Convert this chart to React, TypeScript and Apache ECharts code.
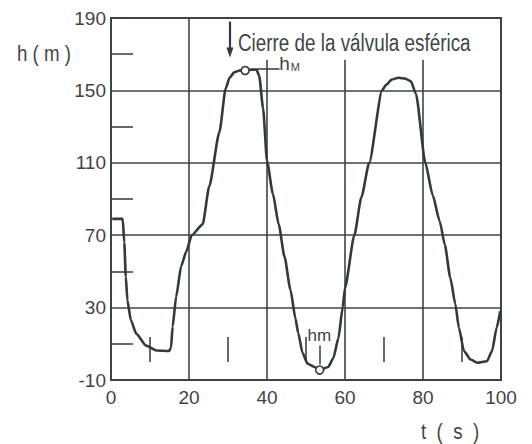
import React, { useEffect, useRef } from "react";
import * as echarts from "echarts";

// Curve: time t (s) and head h (m)
const tSeconds = [
  0.3, 3.0, 3.4, 3.8, 4.2, 5.1, 6.5, 9.0, 11.8, 14.9, 15.4, 15.8, 16.7, 18.0,
  19.3, 20.7, 23.5, 25.2, 27.8, 29.4, 30.4, 31.6, 33.0, 34.4, 36.0, 37.3, 38.0,
  39.0, 40.0, 41.5, 43.0, 44.5, 46.0, 47.3, 48.0, 49.1, 50.4, 52.2, 53.5, 55.7,
  57.0, 58.3, 59.4, 60.0, 62.4, 64.2, 66.2, 69.5, 70.5, 72.0, 73.7, 75.5, 76.9,
  78.2, 80.6, 82.5, 84.3, 85.6, 87.0, 88.3, 89.2, 90.5, 92.2, 93.9, 96.4, 97.7,
  98.9, 99.8,
];
const hMeters = [
  79, 79, 66, 47, 34, 23, 15.5, 9, 6.3, 6, 8, 19.5, 36, 53,
  61, 70, 76, 97, 127, 151, 157, 160, 161, 161, 161.5, 161.5, 158,
  140, 111, 93, 76, 58, 40, 24, 16, 5, -1, -2.8, -4.5, -2.8,
  2, 13, 30, 41, 70, 91, 110, 150, 153, 156, 157, 156.5, 155,
  148, 110, 92, 77.6, 64.7, 46.5, 31.8, 18.9, 6, 1.3, -0.5, 0.4, 6,
  19, 28,
];

// Axes
const xMin = 0;
const xMax = 100;
const xStep = 20;
const yMin = -10;
const yMax = 190;
const yStep = 40;

// Vertical grid lines (t) and the head at which each one starts at its top
const verticalGridT = [20, 40, 60, 80];
const verticalGridTopH = [190, 167, 167, 167];

// Marked extreme heads (circles on the curve)
const extremeT = [34.4, 53.5];
const extremeH = [161, -4.5];

// Annotations (data coordinates)
const closureT = 30.5;
const closureArrowH = [188, 171];
const hMaxLeaderT = [37.4, 43.2];
const hMaxLeaderH = 161.8;
const hMinLeaderT = 53.6;
const hMinLeaderH = [9, -1.5];
const labelT = [45.8, 53.4];
const labelH = [165, 14.5];
const labelText = ["{h|h}{s|M}", "{m|hm}"];

const closureText = "Cierre de la válvula esférica";
const yName = "h ( m )";
const xName = "t  (  s  )";

const LINE = "#3e4444";
const CURVE = "#343a3a";
const TEXT = "#3f4545";
const FONT = "'Liberation Sans', sans-serif";

export default function App() {
  const ref = useRef<HTMLDivElement>(null);

  useEffect(() => {
    if (!ref.current) return;
    document.body.style.margin = "0";
    const chart = echarts.init(ref.current, undefined, { renderer: "svg" });

    const curve = tSeconds.map((t, i) => [t, hMeters[i]]);
    const extremes = extremeT.map((t, i) => [t, extremeH[i]]);
    const labels = labelT.map((t, i) => ({ value: [t, labelH[i]], text: labelText[i] }));

    const gridLines = verticalGridT.map((t, i) => [
      { coord: [t, yMin] },
      { coord: [t, verticalGridTopH[i]] },
    ]);

    const noBorder = { textBorderWidth: 0, textBorderColor: "transparent", textShadowBlur: 0 };

    const option: any = {
      animation: false,
      backgroundColor: "#ffffff",
      grid: {
        left: 111,
        right: 31,
        top: 18,
        bottom: 64,
        show: true,
        borderColor: LINE,
        borderWidth: 2,
        backgroundColor: "transparent",
      },
      xAxis: {
        type: "value",
        min: xMin,
        max: xMax,
        interval: xStep,
        axisLine: { show: false },
        axisTick: { show: false, inside: true },
        minorTick: { show: true, splitNumber: 2, length: 25, lineStyle: { color: LINE, width: 1.6 } },
        splitLine: { show: false },
        axisLabel: { margin: 8, fontSize: 19, fontFamily: FONT, color: TEXT },
      },
      yAxis: {
        type: "value",
        min: yMin,
        max: yMax,
        interval: yStep,
        axisLine: { show: false },
        axisTick: { show: false, inside: true },
        minorTick: { show: true, splitNumber: 2, length: 22, lineStyle: { color: LINE, width: 1.6 } },
        splitLine: { show: true, lineStyle: { color: LINE, width: 1.6 } },
        axisLabel: { margin: 5, fontSize: 19, fontFamily: FONT, color: TEXT },
      },
      series: [
        {
          type: "line",
          data: curve,
          symbol: "none",
          smooth: 0.2,
          smoothMonotone: "x",
          lineStyle: { color: CURVE, width: 2.6 },
          z: 5,
          silent: true,
          markLine: {
            silent: true,
            symbol: ["none", "none"],
            label: { show: false },
            lineStyle: { color: LINE, width: 1.6, type: "solid" },
            data: [
              ...gridLines,
              [
                { coord: [hMaxLeaderT[0], hMaxLeaderH] },
                { coord: [hMaxLeaderT[1], hMaxLeaderH] },
              ],
              [
                { coord: [hMinLeaderT, hMinLeaderH[0]] },
                { coord: [hMinLeaderT, hMinLeaderH[1]] },
              ],
              [
                { coord: [closureT, closureArrowH[0]], symbol: "none" },
                {
                  coord: [closureT, closureArrowH[1]],
                  symbol: "triangle",
                  symbolSize: [7, 10],
                  lineStyle: { width: 2.2, color: CURVE },
                },
              ],
            ],
          },
        },
        {
          type: "scatter",
          data: extremes,
          symbol: "circle",
          symbolSize: 8,
          itemStyle: { color: "#ffffff", borderColor: CURVE, borderWidth: 1.6, opacity: 1 },
          z: 6,
          silent: true,
        },
        {
          type: "scatter",
          data: labels,
          symbolSize: 0,
          silent: true,
          itemStyle: { color: TEXT, opacity: 1 },
          label: {
            show: true,
            position: "inside",
            color: TEXT,
            opacity: 1,
            ...noBorder,
            formatter: (p: any) => p.data.text,
            rich: {
              h: { fontSize: 19, fontFamily: FONT, color: TEXT, ...noBorder },
              s: { fontSize: 11, fontFamily: FONT, color: TEXT, padding: [8, 0, 0, 1], ...noBorder },
              m: { fontSize: 17, fontFamily: FONT, color: TEXT, ...noBorder },
            },
          },
        },
      ],
      graphic: [
        {
          type: "text",
          x: 17,
          y: 42,
          scaleX: 0.85,
          style: { text: yName, fontSize: 22, fontFamily: FONT, fill: TEXT },
        },
        {
          type: "text",
          x: 421,
          y: 420,
          scaleX: 0.85,
          style: { text: xName, fontSize: 22, fontFamily: FONT, fill: TEXT },
        },
        {
          type: "text",
          x: 238,
          y: 31,
          scaleX: 0.82,
          style: { text: closureText, fontSize: 23, fontFamily: FONT, fill: TEXT },
        },
      ],
    };

    chart.setOption(option);
    return () => chart.dispose();
  }, []);

  return <div ref={ref} style={{ width: 532, height: 444 }} />;
}
